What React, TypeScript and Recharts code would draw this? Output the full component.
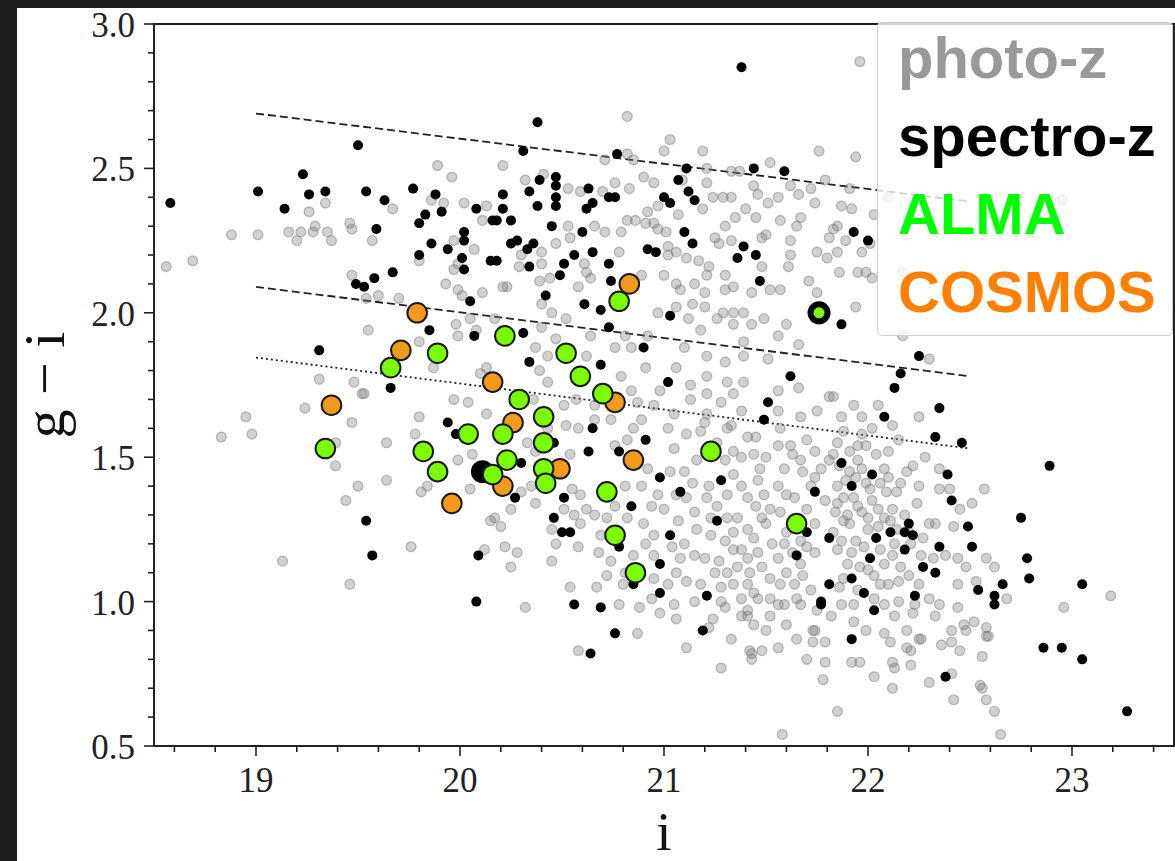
import { ScatterChart, Scatter, XAxis, YAxis, ReferenceLine, ReferenceArea } from 'recharts'

type Pt = [number, number]

// axis ticks (minor + major)
const xTicks = [18.6, 18.8, 19, 19.2, 19.4, 19.6, 19.8, 20, 20.2, 20.4, 20.6, 20.8, 21, 21.2, 21.4, 21.6, 21.8, 22, 22.2, 22.4, 22.6, 22.8, 23, 23.2, 23.4]
const yTicks = [0.5, 0.6, 0.7, 0.8, 0.9, 1.0, 1.1, 1.2, 1.3, 1.4, 1.5, 1.6, 1.7, 1.8, 1.9, 2.0, 2.1, 2.2, 2.3, 2.4, 2.5, 2.6, 2.7, 2.8, 2.9, 3.0]

// photometric redshifts (grey)
const photoZ: Pt[] = [
  [19.89, 2.51], [19.96, 2.47], [19.34, 2.38], [19.26, 2.35], [19.67, 2.36], [19.86, 2.39], [19.92, 2.38], [20.02, 2.38], [20.13, 2.37], [20.11, 2.32],
  [18.88, 2.27], [19.01, 2.27], [19.16, 2.28], [19.22, 2.28], [19.2, 2.25], [19.28, 2.28], [19.29, 2.3], [19.35, 2.28], [19.37, 2.25], [19.46, 2.31], [19.47, 2.29], [19.57, 2.25],
  [18.56, 2.16], [18.69, 2.18], [19.97, 2.25], [20.07, 2.22], [19.8, 2.18], [19.97, 2.15], [19.99, 2.17], [19.47, 2.13], [19.93, 2.1], [19.99, 2.08], [20.01, 2.06], [20.11, 2.07],
  [19.6, 2.06], [19.7, 2.05], [19.54, 2.05], [20.05, 1.98], [19.55, 1.94], [19.8, 1.9], [19.98, 1.96], [19.99, 1.92], [20.08, 1.94], [19.87, 1.81], [19.31, 1.77], [19.48, 1.76],
  [20.1, 1.79], [20.13, 1.81],
  [18.95, 1.64], [18.98, 1.58], [18.83, 1.57], [19.24, 1.67], [19.52, 1.72], [19.47, 1.62], [19.64, 1.55], [19.39, 1.47], [19.5, 1.4], [19.44, 1.35], [19.64, 1.42], [19.8, 1.64],
  [19.78, 1.58], [19.97, 1.7], [20.04, 1.69], [20.13, 1.65], [19.99, 1.49], [20.06, 1.51], [20.05, 1.39], [19.81, 1.38], [19.84, 1.4], [20.15, 1.28], [19.76, 1.19], [20.12, 1.18],
  [19.13, 1.14], [19.46, 1.06], [19.39, 1.55], [19.53, 1.72],
  [20.82, 2.68], [21.03, 2.6], [21.0, 2.56], [21.19, 2.56], [21.76, 2.56], [21.52, 2.52], [20.21, 2.51], [20.71, 2.53], [20.82, 2.55], [20.85, 2.53], [20.32, 2.46], [20.41, 2.48],
  [20.53, 2.43], [20.59, 2.42], [20.7, 2.42], [20.76, 2.45], [20.83, 2.43], [20.9, 2.47], [20.95, 2.45], [21.09, 2.46], [21.21, 2.5], [21.21, 2.45], [21.33, 2.49], [21.37, 2.49],
  [21.44, 2.44], [21.46, 2.41], [21.56, 2.4], [21.62, 2.44], [21.66, 2.41], [21.72, 2.43], [21.79, 2.46], [21.24, 2.4], [21.29, 2.4], [21.33, 2.4], [21.19, 2.36], [21.07, 2.34],
  [20.97, 2.37], [20.92, 2.35], [20.82, 2.32], [20.86, 2.32], [20.91, 2.31], [20.95, 2.31], [20.97, 2.29], [21.01, 2.28], [20.79, 2.28], [20.71, 2.28], [20.66, 2.3], [20.53, 2.3],
  [20.54, 2.26], [20.47, 2.24], [20.4, 2.21], [20.3, 2.2], [20.29, 2.16], [20.4, 2.17], [20.61, 2.17], [20.62, 2.14], [20.64, 2.12], [20.39, 2.11], [20.44, 2.12], [20.23, 2.09],
  [20.58, 2.09], [20.78, 2.21], [21.02, 2.2], [21.06, 2.21], [21.11, 2.19], [21.17, 2.18], [21.22, 2.16], [21.21, 2.13], [21.3, 2.13], [21.0, 2.13], [21.08, 2.08], [21.2, 2.07],
  [21.3, 2.08], [21.34, 2.09], [21.43, 2.07], [21.52, 2.08], [21.57, 2.08], [21.71, 2.11], [21.75, 2.07], [20.89, 2.13], [21.15, 2.1], [21.06, 2.02], [21.14, 2.03], [21.2, 2.02],
  [21.29, 2.0], [21.34, 2.0], [21.39, 2.0], [20.97, 2.0], [21.12, 1.98], [21.18, 1.94], [21.26, 1.98], [21.34, 1.96], [21.43, 1.96], [21.49, 1.98], [21.6, 1.96], [21.56, 1.92],
  [21.66, 1.89], [20.92, 1.92], [20.81, 1.92], [20.76, 1.88], [20.64, 1.92], [20.52, 1.98], [20.45, 2.0], [20.4, 2.03], [20.4, 1.95], [20.47, 1.91], [20.37, 1.88], [20.43, 1.85],
  [20.62, 1.85], [20.84, 1.88], [20.91, 1.81], [21.06, 1.81], [21.1, 1.88], [21.21, 1.85], [21.3, 1.83], [21.39, 1.9], [21.39, 1.85], [21.51, 1.84], [21.21, 1.78], [21.31, 1.76],
  [21.39, 1.76], [20.43, 1.76], [20.79, 1.78], [20.39, 1.8], [21.06, 2.1], [21.75, 2.21], [21.8, 2.19], [21.62, 2.25], [21.62, 2.2], [21.61, 2.16], [21.48, 2.16], [21.48, 2.26],
  [21.5, 2.27], [21.65, 2.3], [21.67, 2.33], [21.57, 2.32], [21.45, 2.33], [21.4, 2.36], [21.35, 2.33], [21.3, 2.3], [21.25, 2.26], [21.33, 2.25], [21.27, 2.24], [21.83, 2.29],
  [21.81, 2.26], [21.74, 2.38], [21.51, 2.38], [21.02, 2.23], [20.21, 2.09], [20.17, 1.98],
  [21.94, 2.54], [21.87, 2.37], [21.92, 2.36], [22.03, 2.34], [21.85, 2.3], [21.89, 2.25], [21.85, 2.21], [21.97, 2.21], [21.86, 2.14], [21.95, 2.14], [21.99, 2.14], [22.02, 2.12],
  [21.94, 2.02], [22.17, 1.92], [22.3, 1.84], [22.01, 2.24], [21.91, 2.43], [22.95, 2.39], [22.67, 2.11], [22.1, 2.4], [22.17, 2.14], [21.96, 2.87],
  [21.87, 1.64], [21.97, 1.64], [22.25, 1.64], [21.83, 1.71], [21.97, 1.58], [22.15, 1.56], [21.85, 1.55], [21.95, 1.54], [21.99, 1.54], [21.91, 1.52], [21.83, 1.51], [22.28, 1.5],
  [22.22, 1.47], [22.19, 1.45], [22.35, 1.46], [22.08, 1.46], [21.97, 1.46], [21.91, 1.45], [22.25, 1.4], [22.35, 1.39], [22.4, 1.39], [22.57, 1.39], [22.14, 1.38], [22.09, 1.38],
  [22.01, 1.39], [21.85, 1.4], [21.99, 1.41], [21.85, 1.34], [21.93, 1.36], [22.51, 1.34], [22.45, 1.32], [21.97, 1.31], [22.05, 1.32], [22.12, 1.32], [21.88, 1.28], [21.91, 1.27],
  [22.08, 1.29], [22.11, 1.28], [22.3, 1.27], [22.33, 1.27], [22.42, 1.26], [22.0, 1.25], [21.83, 1.24], [21.87, 1.21], [21.94, 1.21], [22.13, 1.2], [22.21, 1.2], [22.32, 1.15],
  [22.38, 1.16], [22.44, 1.15], [22.58, 1.15], [22.62, 1.12], [22.48, 1.12], [22.08, 1.13], [22.16, 1.12], [21.96, 1.12], [21.88, 1.08], [22.03, 1.09], [22.2, 1.09], [22.25, 1.06],
  [22.1, 1.06], [22.15, 1.07], [21.86, 1.05], [22.44, 1.06], [22.53, 1.07], [22.68, 1.01], [22.96, 0.98], [23.19, 1.02], [21.87, 0.99], [21.93, 0.99], [22.03, 1.01], [22.08, 0.99],
  [22.15, 1.0], [22.23, 0.99], [22.3, 1.01], [22.35, 0.99], [22.33, 0.95], [22.44, 0.98], [22.22, 0.96], [22.13, 0.95], [21.93, 0.93], [21.99, 0.9], [22.08, 0.89], [22.19, 0.9],
  [22.25, 0.87], [22.41, 0.9], [22.48, 0.9], [22.52, 0.93], [22.58, 0.91], [22.58, 0.88], [22.41, 0.86], [22.11, 0.86], [22.19, 0.84], [22.21, 0.83], [22.36, 0.85], [22.45, 0.83],
  [22.56, 0.81], [21.92, 0.79], [21.96, 0.79], [22.12, 0.79], [22.13, 0.77], [22.21, 0.78], [22.03, 0.74], [22.3, 0.72], [22.41, 0.75], [22.55, 0.71],
  [21.73, 0.86], [21.79, 0.86], [21.79, 0.79], [21.78, 0.73], [21.85, 0.62], [22.12, 0.7], [22.42, 0.66], [22.56, 0.7], [22.58, 0.66], [22.62, 0.62], [22.65, 0.54], [22.59, 0.88],
  [22.47, 0.92], [21.82, 0.95], [21.73, 0.9], [22.26, 0.87], [21.58, 0.54], [21.43, 0.82],
  [20.17, 1.29], [20.22, 1.19], [20.28, 1.17], [20.25, 1.12], [20.2, 1.26], [20.25, 1.32], [20.3, 1.38], [20.37, 1.34], [20.45, 1.14], [20.47, 1.2], [20.45, 1.25], [20.56, 1.3],
  [20.58, 1.19], [20.54, 1.05], [20.32, 0.98], [20.58, 0.83], [20.67, 1.05], [20.78, 0.99], [20.88, 0.98], [20.87, 0.89], [20.62, 1.32], [20.66, 1.3], [20.59, 1.27], [20.69, 1.23],
  [20.68, 1.17], [20.74, 1.14], [20.8, 1.06], [20.72, 1.09], [20.52, 1.61], [20.58, 1.6], [20.54, 1.51], [20.66, 1.63], [20.84, 1.73], [20.89, 1.63], [20.85, 1.6], [20.82, 1.56],
  [20.76, 1.54], [20.92, 1.46], [20.89, 1.4], [20.97, 1.37], [20.94, 1.33], [20.82, 1.29], [20.9, 1.27], [20.95, 1.23], [20.91, 1.2], [20.95, 1.16], [21.05, 1.53], [21.03, 1.45],
  [21.1, 1.45], [21.02, 1.6], [21.13, 1.7], [21.11, 1.58], [21.16, 1.49], [21.11, 1.36], [21.15, 1.31], [21.07, 1.28], [21.1, 1.2], [21.15, 1.16], [21.08, 1.15], [21.06, 1.1],
  [21.11, 1.07], [21.18, 1.06], [21.15, 1.0], [21.06, 0.94], [21.11, 0.84], [21.24, 0.94], [21.28, 1.0], [21.31, 1.1], [21.34, 1.18], [21.3, 1.21], [21.23, 1.23], [21.31, 1.29],
  [21.34, 1.24], [21.21, 1.36], [21.31, 1.37], [21.38, 1.4], [21.41, 1.36], [21.34, 1.44], [21.3, 1.49], [21.34, 1.52], [21.31, 1.6], [21.33, 1.61], [21.41, 1.57], [21.38, 1.66],
  [21.28, 1.69], [21.34, 1.72], [21.21, 1.72], [21.44, 1.51], [21.47, 1.46], [21.46, 1.42], [21.49, 1.37], [21.52, 1.32], [21.48, 1.29], [21.41, 1.25], [21.44, 1.22], [21.41, 1.15],
  [21.48, 1.12], [21.42, 1.1], [21.34, 1.06], [21.41, 1.06], [21.38, 1.01], [21.46, 1.01], [21.52, 1.01], [21.41, 0.97], [21.38, 0.95], [21.44, 0.92], [21.42, 0.83], [21.48, 0.83],
  [21.43, 0.8], [21.28, 0.77], [21.6, 0.92], [21.59, 0.99], [21.52, 0.95], [21.57, 1.06], [21.6, 1.1], [21.56, 1.15], [21.59, 1.2], [21.6, 1.24], [21.57, 1.31], [21.6, 1.37],
  [21.56, 1.4], [21.59, 1.46], [21.56, 1.54], [21.62, 1.54], [21.57, 1.6], [21.56, 1.66], [21.67, 1.64], [21.7, 1.56], [21.74, 1.52], [21.67, 1.49], [21.77, 1.46], [21.81, 1.49],
  [21.74, 1.43], [21.7, 1.32], [21.79, 1.35], [21.74, 1.27], [21.67, 1.21], [21.74, 1.17], [21.67, 1.13], [21.64, 1.06], [21.72, 1.04], [21.67, 0.99], [21.75, 0.97], [21.74, 0.9],
  [21.81, 1.71], [21.75, 1.66], [21.66, 1.74], [21.56, 1.73], [21.18, 1.59], [21.21, 1.65], [21.05, 1.65], [20.95, 1.68], [20.98, 1.73],
  [21.13, 1.75], [21.23, 1.29], [21.2, 1.15], [21.25, 1.1], [21.02, 1.06], [20.95, 1.08], [20.94, 1.01], [20.98, 0.96], [21.05, 0.99], [20.81, 1.1], [20.85, 1.16], [20.72, 1.29],
  [20.76, 1.33], [20.81, 1.4], [20.59, 1.37], [20.51, 1.32], [20.55, 1.39], [20.35, 1.4], [20.37, 1.52], [20.33, 1.55], [20.43, 1.6], [20.51, 1.68], [20.57, 1.7], [20.66, 1.68],
  [20.74, 1.63], [20.87, 1.69], [20.36, 1.7], [21.41, 0.95],
  // dense core, 21.8 < i < 22.3
  [21.86, 1.47], [21.89, 1.42], [21.94, 1.43], [21.88, 1.36], [21.95, 1.33], [22.02, 1.35], [22.06, 1.41], [22.1, 1.43], [21.84, 1.31], [21.9, 1.3], [22.0, 1.29], [22.05, 1.26],
  [22.14, 1.25], [21.85, 1.18], [21.92, 1.17], [21.98, 1.19], [22.06, 1.18], [22.12, 1.16], [21.9, 1.13], [22.0, 1.11], [22.06, 1.06], [21.95, 1.04], [22.18, 1.3], [22.16, 1.41],
  [22.24, 1.34], [22.2, 1.24], [22.27, 1.22], [22.26, 1.16], [21.95, 1.49], [22.04, 1.51], [22.1, 1.52], [21.88, 1.59], [22.02, 1.6], [22.12, 1.61], [21.93, 1.68], [22.05, 1.68],
  // dense core, 21.0 < i < 21.8
  [21.22, 1.4], [21.26, 1.33], [21.36, 1.29], [21.45, 1.33], [21.5, 1.27], [21.38, 1.18], [21.46, 1.17], [21.53, 1.2], [21.27, 1.14], [21.36, 1.12], [21.52, 1.08], [21.28, 1.05],
  [21.44, 1.03], [21.56, 0.99], [21.65, 1.01], [21.68, 1.09], [21.63, 1.17], [21.7, 1.19], [21.66, 1.28], [21.64, 1.36], [21.72, 1.4], [21.68, 1.45], [21.63, 1.51], [21.5, 1.5],
  [21.45, 1.57], [21.38, 1.5], [21.26, 1.55], [21.2, 1.62], [21.14, 1.41], [21.16, 1.25], [21.04, 1.19], [21.0, 1.32], [21.06, 1.37], [21.3, 0.98], [21.22, 0.91], [21.33, 0.87],
  [21.5, 0.9], [21.65, 0.87], [21.56, 0.84], [21.7, 0.8],
]

// spectroscopic redshifts (black)
const spectroZ: Pt[] = [
  [18.58, 2.38], [19.5, 2.58], [19.23, 2.48], [19.01, 2.42], [19.26, 2.41], [19.34, 2.42], [19.14, 2.36], [19.54, 2.42], [19.63, 2.39], [19.77, 2.43], [19.88, 2.41], [19.83, 2.34],
  [19.91, 2.35], [19.8, 2.31], [19.59, 2.29], [20.08, 2.36], [20.16, 2.32], [20.02, 2.28], [20.02, 2.25], [19.86, 2.24], [19.94, 2.22], [19.8, 2.2], [20.01, 2.19], [20.02, 2.15],
  [20.15, 2.18], [19.67, 2.14], [19.58, 2.12], [19.49, 2.1], [19.53, 2.09], [20.05, 2.04], [19.85, 1.94], [20.07, 1.92], [19.31, 1.87], [19.66, 1.74],
  [19.94, 1.62], [19.98, 1.58], [19.54, 1.28], [19.57, 1.16], [20.09, 1.16], [20.08, 1.0],
  [20.38, 2.66], [20.31, 2.56], [20.77, 2.55], [21.11, 2.5], [21.44, 2.5], [21.59, 2.49], [21.07, 2.46], [21.12, 2.42], [21.15, 2.39], [21.0, 2.4], [21.03, 2.38], [20.39, 2.46],
  [20.47, 2.47], [20.47, 2.44], [20.34, 2.42], [20.21, 2.41], [20.21, 2.36], [20.38, 2.37], [20.47, 2.4], [20.47, 2.37], [20.63, 2.43], [20.65, 2.38], [20.62, 2.36], [20.73, 2.4],
  [20.76, 2.4], [20.18, 2.32], [20.25, 2.32], [20.45, 2.3], [20.6, 2.28], [20.25, 2.24], [20.28, 2.25], [20.33, 2.22], [20.36, 2.24], [20.18, 2.18], [20.34, 2.16], [20.51, 2.17],
  [20.56, 2.2], [20.65, 2.21], [20.73, 2.17], [20.49, 2.13], [20.74, 2.11], [20.42, 2.06], [20.61, 2.03], [20.69, 2.01], [20.73, 1.95], [20.31, 1.93], [21.1, 2.28], [21.14, 2.24],
  [20.92, 2.22], [20.96, 2.21], [21.39, 2.23], [21.36, 2.19], [21.45, 2.2], [21.47, 2.11], [21.03, 1.99], [20.9, 1.88], [20.34, 1.83], [20.69, 1.82], [21.02, 1.76], [21.62, 1.78],
  [21.38, 2.85],
  [21.93, 2.28], [22.0, 2.25], [21.87, 1.96], [22.25, 1.85], [22.16, 1.79], [22.13, 1.74],
  [22.35, 1.67], [22.08, 1.64], [22.33, 1.57], [22.46, 1.55], [22.89, 1.47], [21.87, 1.48], [22.02, 1.44], [22.39, 1.44], [21.92, 1.4], [22.41, 1.35], [22.75, 1.29], [22.2, 1.27],
  [22.11, 1.24], [22.18, 1.24], [22.22, 1.23], [22.49, 1.26], [22.04, 1.22], [22.35, 1.19], [22.51, 1.19], [22.18, 1.18], [22.01, 1.15], [22.78, 1.15], [22.27, 1.12], [22.33, 1.1],
  [21.92, 1.08], [22.79, 1.08], [22.66, 1.06], [23.05, 1.06], [22.54, 1.04], [21.98, 1.03], [22.23, 1.02], [22.62, 1.02], [22.62, 0.99], [22.03, 0.97], [21.92, 0.87], [22.86, 0.84],
  [22.95, 0.84], [23.05, 0.8], [22.38, 0.74], [23.27, 0.62], [21.77, 0.99],
  [21.51, 1.69], [21.49, 1.63], [20.65, 1.6], [20.91, 1.56], [20.63, 1.52], [20.78, 1.52], [20.46, 1.55], [20.3, 1.48], [20.98, 1.43], [21.08, 1.38], [21.28, 1.42], [21.74, 1.38],
  [20.51, 1.36], [20.27, 1.36], [20.84, 1.33], [20.46, 1.29], [20.5, 1.24], [20.54, 1.24], [21.26, 1.28], [21.03, 1.23], [21.7, 1.24], [21.81, 1.22], [21.65, 1.16], [20.78, 1.19],
  [20.98, 1.13], [20.85, 1.06], [20.98, 1.03], [21.21, 1.02], [21.81, 1.06], [21.77, 1.0], [20.56, 0.99], [20.69, 0.98], [21.19, 0.9], [20.76, 0.89], [20.64, 0.82],
]

// sources with a black halo (spectro-z overlap)
const haloed: Pt[] = [[20.11, 1.45], [21.76, 2.0]]
const haloedAlma: Pt[] = [[21.76, 2.0]]

const alma: Pt[] = [
  [19.34, 1.53], [19.66, 1.81], [19.89, 1.86], [19.82, 1.52], [19.89, 1.45], [20.04, 1.58], [20.16, 1.44], [20.78, 2.04], [20.22, 1.92], [20.52, 1.86], [20.59, 1.78], [20.7, 1.72],
  [20.29, 1.7], [20.41, 1.64], [20.21, 1.58], [20.41, 1.55], [20.23, 1.49], [20.41, 1.46], [20.42, 1.41], [20.72, 1.38], [20.76, 1.23], [20.86, 1.1], [21.23, 1.52], [21.65, 1.27],
]

const cosmos: Pt[] = [
  [19.79, 2.0], [19.71, 1.87], [20.16, 1.76], [19.37, 1.68], [19.96, 1.34], [20.83, 2.1], [20.76, 1.69], [20.26, 1.62], [20.49, 1.46], [20.85, 1.49], [20.21, 1.4],
]

// colour cuts
const cutUpper = [{ x: 19, y: 2.69 }, { x: 22.5, y: 2.385 }]
const cutMiddle = [{ x: 19, y: 2.09 }, { x: 22.5, y: 1.78 }]
const cutLower = [{ x: 19, y: 1.845 }, { x: 22.5, y: 1.53 }]

const legendItems = [
  { label: 'photo-z', color: '#999999' },
  { label: 'spectro-z', color: '#000000' },
  { label: 'ALMA', color: '#00ff00' },
  { label: 'COSMOS', color: '#ff8000' },
]

const toRows = (pts: Pt[]) => pts.map(([i, gi]) => ({ i, gi }))

const serif = '"Liberation Serif", "Times New Roman", serif'
const axisColor = '#222'

function XTick(props: any) {
  const { x, y, payload } = props
  const v = payload.value
  const major = Math.abs(v - Math.round(v)) < 1e-6
  return (
    <g>
      <line x1={x} y1={y} x2={x} y2={y + (major ? 10 : 6)} stroke={axisColor} strokeWidth={1.6} />
      {major && (
        <text x={x} y={y + 46} textAnchor="middle" fontFamily={serif} fontSize={35} fill={axisColor}>
          {Math.round(v)}
        </text>
      )}
    </g>
  )
}

function YTick(props: any) {
  const { x, y, payload } = props
  const v = payload.value
  const major = Math.abs(v * 2 - Math.round(v * 2)) < 1e-6
  return (
    <g>
      <line x1={x} y1={y} x2={x - (major ? 10 : 6)} y2={y} stroke={axisColor} strokeWidth={1.6} />
      {major && (
        <text x={x - 19} y={y + 13} textAnchor="end" fontFamily={serif} fontSize={35} fill={axisColor}>
          {v.toFixed(1)}
        </text>
      )}
    </g>
  )
}

const greyDot = (p: any) => (
  <circle cx={p.cx} cy={p.cy} r={4.9} fill="#808080" fillOpacity={0.36} stroke="#808080" strokeOpacity={0.5} strokeWidth={1.3} />
)
const blackDot = (p: any) => <circle cx={p.cx} cy={p.cy} r={5} fill="#000" />
const halo = (p: any) => <circle cx={p.cx} cy={p.cy} r={11.5} fill="#000" />
const almaDot = (p: any) => <circle cx={p.cx} cy={p.cy} r={9.8} fill="#7cfc00" stroke="#1a1a1a" strokeWidth={2} />
const almaCore = (p: any) => <circle cx={p.cx} cy={p.cy} r={5.5} fill="#7cfc00" />
const cosmosDot = (p: any) => <circle cx={p.cx} cy={p.cy} r={9.8} fill="#f39a1d" stroke="#1a1a1a" strokeWidth={2} />

export default function App() {
  return (
    <div style={{ position: 'relative', width: 1175, height: 861, background: '#1e1e1e', overflow: 'hidden' }}>
      <style>{'body{margin:0;background:#1e1e1e}'}</style>
      <div style={{ position: 'absolute', left: 17, top: 8, width: 1158, height: 853, background: '#fff' }} />
      <div style={{ position: 'absolute', left: 0, top: 0 }}>
        <ScatterChart width={1175} height={861} margin={{ top: 24, right: 1, bottom: 0, left: 0 }}>
          <XAxis
            type="number"
            dataKey="i"
            domain={[18.5, 23.5]}
            ticks={xTicks}
            interval={0}
            tickSize={0}
            tickMargin={0}
            tick={<XTick />}
            axisLine={false}
            tickLine={false}
            height={115}
            allowDataOverflow
            label={(p: any) => (
              <text
                x={p.viewBox.x + p.viewBox.width / 2}
                y={p.viewBox.y + 104}
                textAnchor="middle"
                fontFamily={serif}
                fontSize={55}
                fill="#111"
              >
                i
              </text>
            )}
          />
          <YAxis
            type="number"
            dataKey="gi"
            domain={[0.5, 3.0]}
            ticks={yTicks}
            interval={0}
            tickSize={0}
            tickMargin={0}
            tick={<YTick />}
            axisLine={false}
            tickLine={false}
            width={154}
            allowDataOverflow
            label={(p: any) => {
              const cx = 64
              const cy = p.viewBox.y + p.viewBox.height / 2
              return (
                <text
                  x={cx}
                  y={cy}
                  transform={`rotate(-90 ${cx} ${cy})`}
                  textAnchor="middle"
                  fontFamily={serif}
                  fontSize={58}
                  fill="#111"
                  style={{ whiteSpace: 'pre' }}
                >
                  {'g − i'}
                </text>
              )
            }}
          />
          <ReferenceArea x1={18.5} x2={23.5} y1={0.5} y2={3.0} fill="none" fillOpacity={0} stroke={axisColor} strokeWidth={2} />
          <Scatter data={toRows(photoZ)} shape={greyDot} isAnimationActive={false} />
          <Scatter data={toRows(spectroZ)} shape={blackDot} isAnimationActive={false} />
          <Scatter data={toRows(haloed)} shape={halo} isAnimationActive={false} />
          <Scatter data={toRows(haloedAlma)} shape={almaCore} isAnimationActive={false} />
          <Scatter data={toRows(cosmos)} shape={cosmosDot} isAnimationActive={false} />
          <Scatter data={toRows(alma)} shape={almaDot} isAnimationActive={false} />
          <ReferenceLine segment={cutUpper} stroke="#222" strokeWidth={1.8} strokeDasharray="8 4" />
          <ReferenceLine segment={cutMiddle} stroke="#222" strokeWidth={1.8} strokeDasharray="8 4" />
          <ReferenceLine segment={cutLower} stroke="#222" strokeWidth={1.8} strokeDasharray="2 3" />
        </ScatterChart>
      </div>
      <svg
        width={296}
        height={314}
        style={{ position: 'absolute', left: 877, top: 22, pointerEvents: 'none' }}
      >
        <rect x={0.5} y={0.5} width={295} height={313} rx={4} fill="#fff" fillOpacity={0.8} stroke="#cccccc" strokeWidth={1} />
        {legendItems.map((it, k) => (
          <text
            key={it.label}
            x={21}
            y={56 + k * 78}
            fontFamily='"Liberation Sans", Arial, sans-serif'
            fontWeight="bold"
            fontSize={58}
            fill={it.color}
          >
            {it.label}
          </text>
        ))}
      </svg>
    </div>
  )
}
